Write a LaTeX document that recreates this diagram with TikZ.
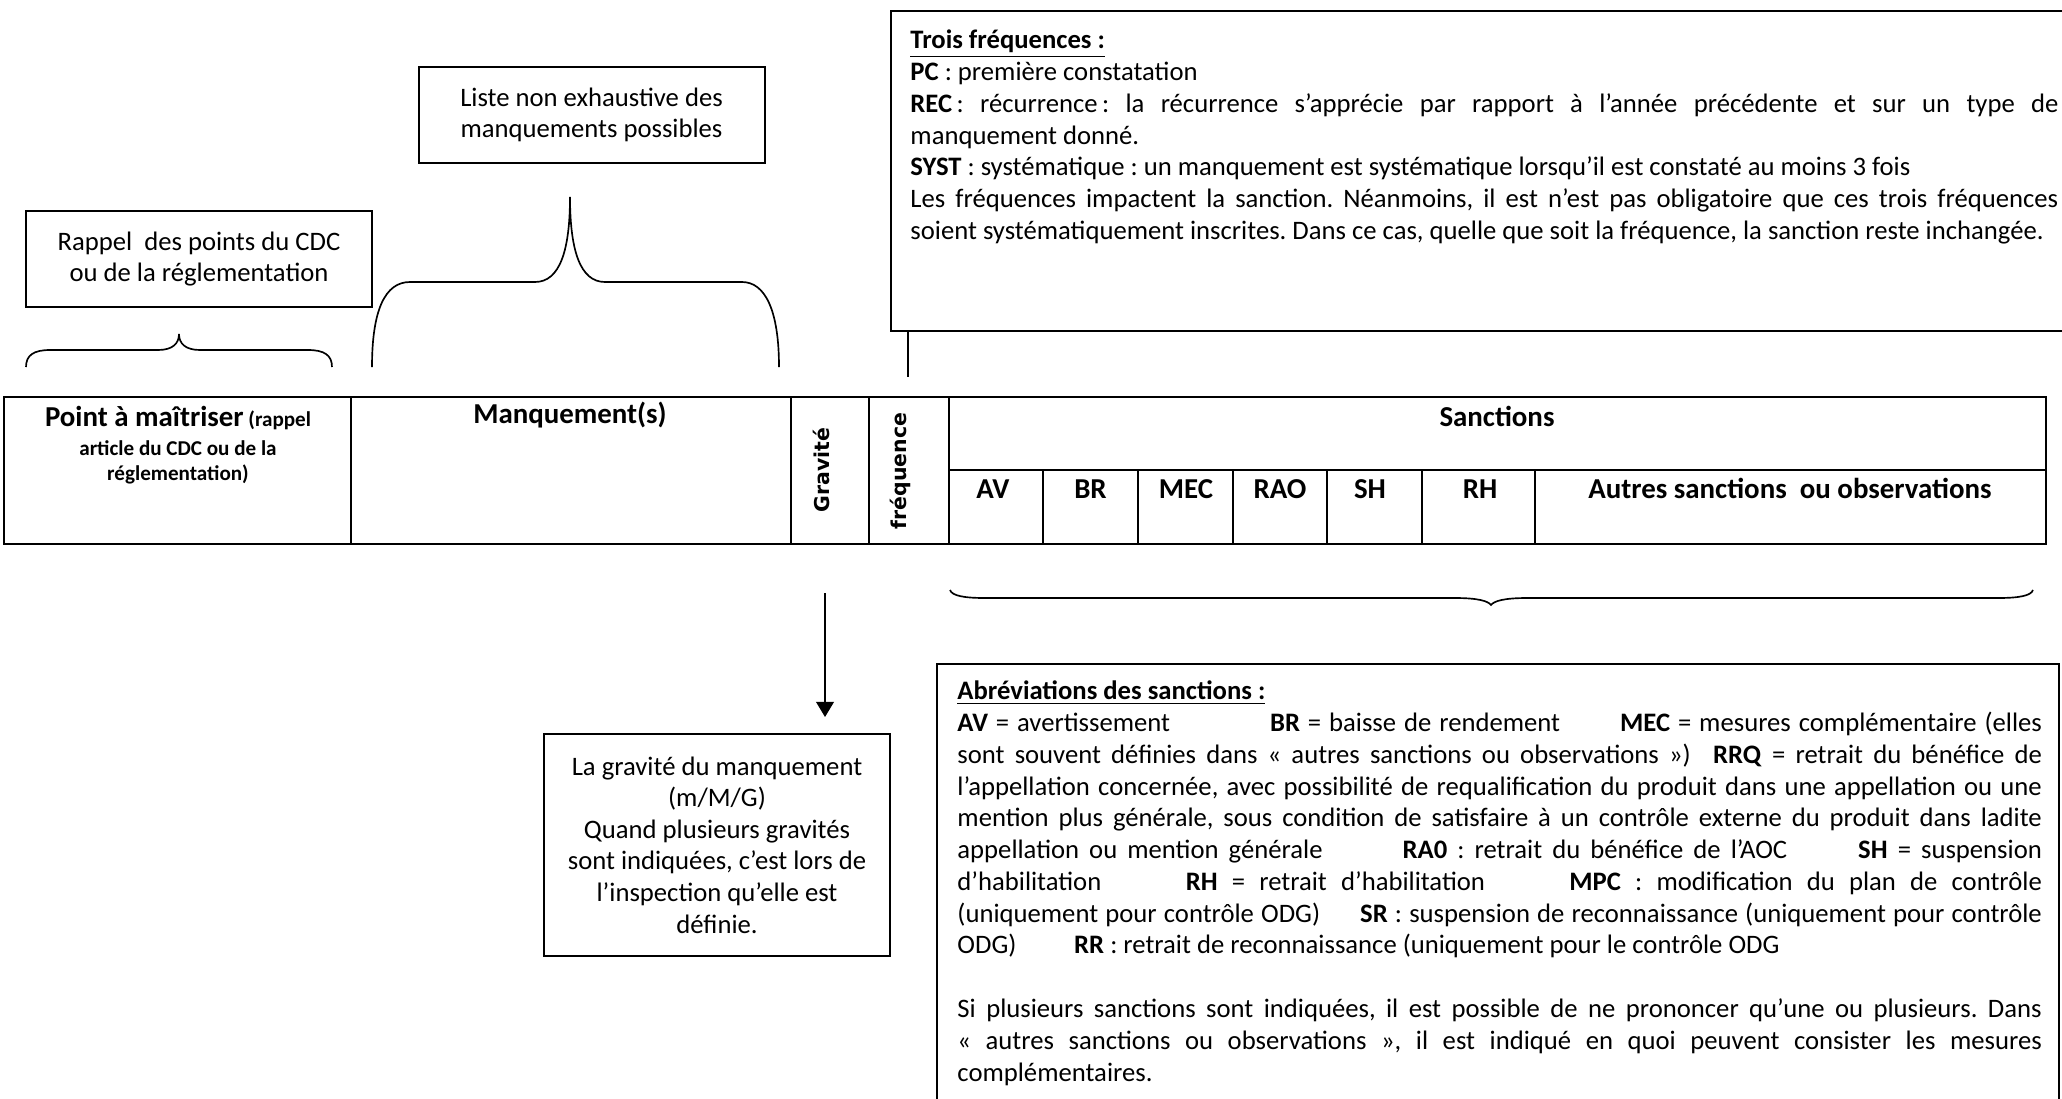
\documentclass[tikz,border=0pt]{standalone}
\usepackage{fontspec}
\setmainfont{Carlito}
\newfontfamily\verdana{DejaVu Sans}
\usetikzlibrary{positioning, arrows.meta}
\hyphenpenalty=10000
\exhyphenpenalty=10000
\frenchspacing

\begin{document}
\begin{tikzpicture}[
        x=0.45pt, y=-0.45pt,
        every node/.style={inner sep=0pt, font=\fontsize{12}{14.2}\selectfont},
        boxline/.style={draw, line width=0.9pt},
        note/.style={boxline, align=center, minimum width=155.7pt},
        textblock/.style={anchor=north west, align=justify, font=\fontsize{12}{14.3}\selectfont\sloppy},
        head/.style={anchor=base, font=\bfseries\fontsize{13}{15}\selectfont},
        vhead/.style={rotate=90, font=\verdana\bfseries\fontsize{9.2}{11}\selectfont},
        cellline/.style={line width=0.55pt},
        curly/.style={line width=0.75pt},
        stem/.style={line width=0.7pt},
        link/.style={-{Triangle[length=6.8pt, width=8pt]}, line width=0.6pt, shorten >=7.2pt}
    ]
    \useasboundingbox (0,0) rectangle (2062,1099);
    \clip (0,0) rectangle (2062,1099);

    % Notes above the table
    \node[note, minimum height=43.2pt] (rappelnote) at (199,259) {Rappel~ des points du CDC\\ou de la réglementation};
    \node[note, minimum height=43.2pt] (listenote) at (591.5,115) {Liste non exhaustive des\\manquements possibles};

    % Trois fréquences
    \node[boxline, anchor=north west, minimum width=540pt, minimum height=144pt] (troisbox) at (890,10) {};
    \node[textblock, text width=516.5pt] (troistxt) at (910,26) {\strut\underline{\textbf{Trois fréquences :}}\\
        \textbf{PC} : première constatation\\
        \textbf{REC}\,: récurrence\,: la récurrence s’apprécie par rapport à l’année précédente et sur un type de\linebreak
        manquement donné.\\
        \textbf{SYST} : systématique : un manquement est systématique lorsqu’il est constaté au moins 3 fois\\
        Les fréquences impactent la sanction. Néanmoins, il est n’est pas obligatoire que ces trois fréquences\linebreak
        soient systématiquement inscrites. Dans ce cas, quelle que soit la fréquence, la sanction reste inchangée.};

    % Braces
    \draw[curly] (26,367) .. controls (26,355) and (34,350) .. (50,350) -- (158,350)
        .. controls (172,350) and (179,344) .. (179,334)
        .. controls (179,344) and (186,350) .. (200,350) -- (308,350)
        .. controls (324,350) and (332,355) .. (332,367);
    \draw[curly] (372,367) .. controls (372,310) and (385,282) .. (410,282) -- (535,282)
        .. controls (560,282) and (570,250) .. (570,197)
        .. controls (570,250) and (580,282) .. (605,282) -- (742,282)
        .. controls (765,282) and (779,310) .. (779,367);
    \draw[curly] (950,590) .. controls (952,596) and (965,598) .. (985,598) -- (1455,598)
        .. controls (1478,598) and (1488,601) .. (1491,605)
        .. controls (1494,601) and (1504,598) .. (1527,598) -- (1998,598)
        .. controls (2018,598) and (2031,596) .. (2033,590);

    % Table
    \draw[boxline] (4,397) rectangle (2046,544);
    \foreach \cx in {351,791,869,949}
        \draw[cellline] (\cx,397) -- (\cx,544);
    \draw[cellline] (949,470) -- (2046,470);
    \foreach \cx in {1043,1138,1233,1327,1422,1535}
        \draw[cellline] (\cx,470) -- (\cx,544);

    % Table headers
    \node[align=center, anchor=north, font=\bfseries\fontsize{9.5}{11.2}\selectfont] (pointhd) at (178,406)
        {{\fontsize{13}{15}\selectfont Point à maîtriser} (rappel\\[1.8pt]article du CDC ou de la\\réglementation)};
    \node[head] (manqhd) at (570,423) {Manquement(s)};
    \node[vhead] (gravhd) at (821,470) {Gravité};
    \node[vhead] (freqhd) at (900,471) {fréquence};
    \node[head] (sanchd) at (1497,426) {Sanctions};
    \foreach \lab/\cx [count=\i] in {AV/993,BR/1090.5,MEC/1186,RAO/1280,SH/1370,RH/1480}
        \node[head] (sanc\i) at (\cx,498) {\lab};
    \node[head] (autreshd) at (1790,498) {Autres sanctions~ ou observations};

    % Gravité note and arrow
    \node[note, minimum height=99.9pt] (gravnote) at (717,845) {La gravité du manquement\\(m/M/G)\\Quand plusieurs gravités\\sont indiquées, c’est lors de\\l’inspection qu’elle est\\définie.};
    \coordinate (gravtop) at (825,593);
    \draw[link] (gravtop) -- (gravtop |- gravnote.north);

    % Stem under Trois fréquences
    \coordinate (troistick) at (908,377);
    \draw[stem] (troistick |- troisbox.south) -- (troistick);

    % Abréviations des sanctions
    \node[boxline, anchor=north west, minimum width=504.9pt, minimum height=206pt] (abrevbox) at (936,663) {};
    \node[textblock, text width=488pt] (abrevtxt) at (957,677) {\strut\underline{\textbf{Abréviations des sanctions :}}\\
        \textbf{AV} = avertissement\hspace{45pt}\textbf{BR} = baisse de rendement\hspace{27pt}\textbf{MEC} = mesures complémentaire (elles\linebreak
        sont souvent définies dans «~autres sanctions ou observations~»)\hspace{10pt}\textbf{RRQ} = retrait du bénéfice de\linebreak
        l’appellation concernée, avec possibilité de requalification du produit dans une appellation ou une\linebreak
        mention plus générale, sous condition de satisfaire à un contrôle externe du produit dans ladite\linebreak
        appellation ou mention générale\hspace{36pt}\textbf{RA0} : retrait du bénéfice de l’AOC\hspace{32pt}\textbf{SH} = suspension\linebreak
        d’habilitation\hspace{38pt}\textbf{RH} = retrait d’habilitation\hspace{38pt}\textbf{MPC} : modification du plan de contrôle\linebreak
        (uniquement pour contrôle ODG)\hspace{18pt}\textbf{SR} : suspension de reconnaissance (uniquement pour contrôle\linebreak
        ODG)\hspace{26pt}\textbf{RR} : retrait de reconnaissance (uniquement pour le contrôle ODG\par
        \vspace{14.3pt}
        Si plusieurs sanctions sont indiquées, il est possible de ne prononcer qu’une ou plusieurs. Dans\linebreak
        «~autres sanctions ou observations~», il est indiqué en quoi peuvent consister les mesures\linebreak
        complémentaires.};

\end{tikzpicture}
\end{document}
